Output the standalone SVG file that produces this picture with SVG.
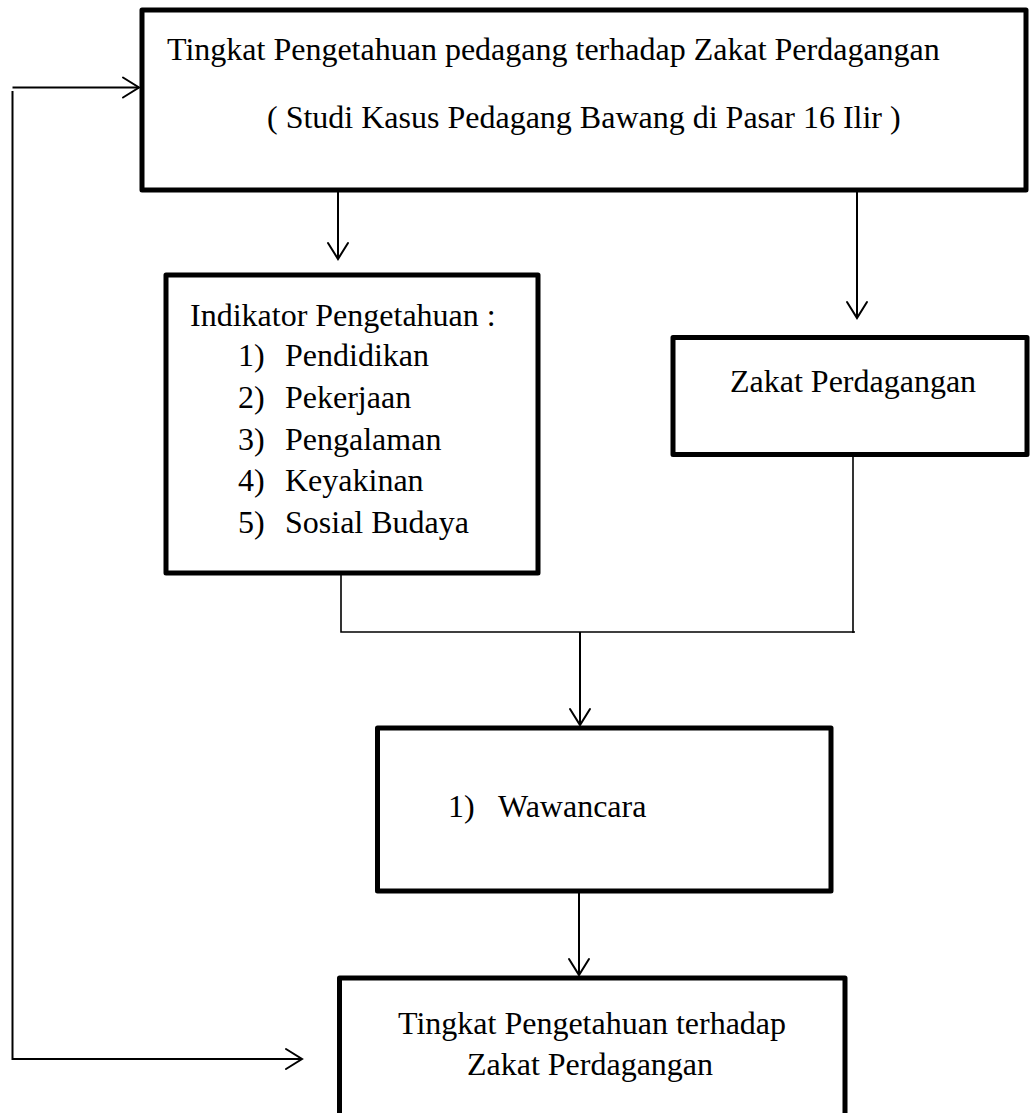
<svg xmlns="http://www.w3.org/2000/svg" width="1030" height="1113" viewBox="0 0 1030 1113">
<defs>
<style>
.box{fill:#fff;stroke:#000;stroke-width:5;stroke-linejoin:round}
.ln{fill:none;stroke:#000;stroke-width:2}
.thin{fill:none;stroke:#000;stroke-width:1.6}
.ah{fill:none;stroke:#000;stroke-width:2;stroke-linecap:round;stroke-linejoin:miter}
text{font-family:"Liberation Serif","Times New Roman",serif;font-size:32px;fill:#000}
</style>
</defs>
<rect width="1030" height="1113" fill="#fff"/>
<g id="connectors">
<path class="ln" d="M12.5,87.5 H139"/>
<path class="ah" d="M123,77.5 L139,87.5 L123,97.5"/>
<path class="ln" d="M12.5,91 V1059 H302"/>
<path class="ah" d="M286,1049 L302,1059 L286,1069"/>
<path class="ln" d="M338,192 V259"/>
<path class="ah" d="M328,243 L338,259 L348,243"/>
<path class="ln" d="M857,192 V318"/>
<path class="ah" d="M847,302 L857,318 L867,302"/>
<path class="thin" d="M341,575 V632 H855"/>
<path class="thin" d="M853,456 V633"/>
<path class="ln" d="M580,632 V725"/>
<path class="ah" d="M570,709 L580,725 L590,709"/>
<path class="ln" d="M579,893 V975"/>
<path class="ah" d="M569,959 L579,975 L589,959"/>
</g>
<g id="node-title">
<rect class="box" x="142" y="10" width="884" height="180"/>
<text x="167" y="60">Tingkat Pengetahuan pedagang terhadap Zakat Perdagangan</text>
<text x="267" y="128">( Studi Kasus Pedagang Bawang di Pasar 16 Ilir )</text>
</g>
<g id="node-indikator">
<rect class="box" x="166" y="275" width="372" height="298"/>
<text x="190" y="326">Indikator Pengetahuan :</text>
<text x="238" y="366">1)</text><text x="285" y="366">Pendidikan</text>
<text x="238" y="408">2)</text><text x="285" y="408">Pekerjaan</text>
<text x="238" y="450">3)</text><text x="285" y="450">Pengalaman</text>
<text x="238" y="491">4)</text><text x="285" y="491">Keyakinan</text>
<text x="238" y="533">5)</text><text x="285" y="533">Sosial Budaya</text>
</g>
<g id="node-zakat">
<rect class="box" x="673" y="337.5" width="354" height="117"/>
<text x="730" y="392">Zakat Perdagangan</text>
</g>
<g id="node-wawancara">
<rect class="box" x="377.5" y="728" width="453.5" height="163"/>
<text x="448" y="817">1)</text><text x="498" y="817">Wawancara</text>
</g>
<g id="node-hasil">
<rect class="box" x="339.5" y="978" width="505.5" height="150"/>
<text x="592" y="1034" text-anchor="middle">Tingkat Pengetahuan terhadap</text>
<text x="590" y="1075" text-anchor="middle">Zakat Perdagangan</text>
</g>
</svg>
